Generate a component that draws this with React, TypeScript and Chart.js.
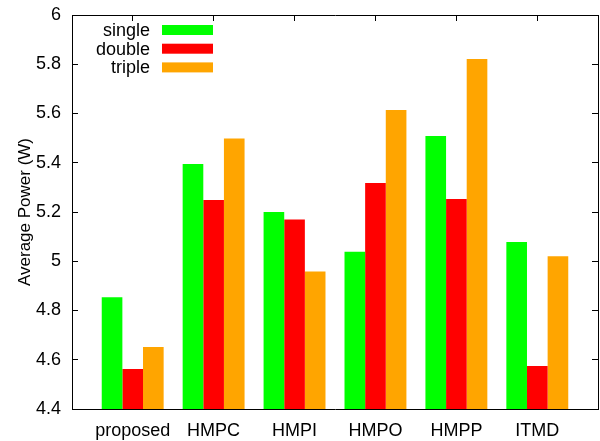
import React, { useEffect, useRef } from 'react';
import { Chart, registerables } from 'chart.js';

Chart.register(...registerables);

const categories = ['proposed', 'HMPC', 'HMPI', 'HMPO', 'HMPP', 'ITMD'];
const singleValues = [4.854, 5.395, 5.2, 5.039, 5.509, 5.078];
const doubleValues = [4.562, 5.249, 5.17, 5.318, 5.253, 4.575];
const tripleValues = [4.652, 5.498, 4.958, 5.614, 5.821, 5.02];
const yTicks = [4.4, 4.6, 4.8, 5.0, 5.2, 5.4, 5.6, 5.8, 6.0];
const seriesNames = ['single', 'double', 'triple'];
const seriesColors = ['#00ff00', '#ff0000', '#ffa500'];
const yTitle = 'Average Power (W)';

const FONT = '"Liberation Sans", Arial, Helvetica, sans-serif';

const legendPlugin = {
  id: 'gnuLegend',
  afterDraw(chart: any) {
    const { ctx, chartArea: a } = chart;
    ctx.save();
    ctx.font = `18px ${FONT}`;
    ctx.textAlign = 'right';
    ctx.textBaseline = 'alphabetic';
    chart.data.datasets.forEach((ds: any, i: number) => {
      const cy = a.top + 15 + i * 18.7;
      ctx.fillStyle = '#000000';
      ctx.fillText(ds.label, a.left + 78, cy + 6);
      ctx.fillStyle = ds.backgroundColor;
      ctx.fillRect(a.left + 90, cy - 5, 51, 10);
    });
    ctx.restore();
  },
};

const catTicks = (scale: any) => {
  scale.ticks = categories.map((_, i) => ({ value: i }));
};
const valTicks = (scale: any) => {
  scale.ticks = yTicks.map((v) => ({ value: v }));
};
const inwardGrid = {
  display: true,
  drawOnChartArea: false,
  drawTicks: true,
  tickLength: -6,
  color: '#000',
  lineWidth: 1,
};

export default function App() {
  const ref = useRef<HTMLCanvasElement>(null);
  useEffect(() => {
    if (!ref.current) return;
    const seriesValues = [singleValues, doubleValues, tripleValues];
    const chart = new Chart(ref.current, {
      type: 'bar',
      data: {
        datasets: seriesNames.map((name, s) => ({
          label: name,
          data: seriesValues[s].map((v, i) => ({ x: i, y: v })),
          backgroundColor: seriesColors[s],
          borderWidth: 0,
          categoryPercentage: 0.765,
          barPercentage: 1,
          xAxisID: 'x',
          yAxisID: 'y',
        })),
      },
      options: {
        responsive: false,
        animation: false,
        devicePixelRatio: 1,
        layout: { padding: { top: 15, right: 2, left: 0, bottom: 0 } },
        plugins: { legend: { display: false }, tooltip: { enabled: false } },
        scales: {
          x: {
            type: 'linear',
            position: 'bottom',
            offset: false,
            min: -0.75,
            max: 5.75,
            grid: { display: false, offset: false },
            border: { display: true, color: '#000', width: 1 },
            afterBuildTicks: catTicks,
            afterFit: (scale: any) => {
              scale.height = 32;
            },
            ticks: {
              autoSkip: false,
              maxRotation: 0,
              padding: 3,
              color: '#000',
              font: { family: FONT, size: 18 },
              callback: (v: any) => categories[v] ?? '',
            },
          },
          x2: {
            type: 'linear',
            position: 'top',
            offset: false,
            min: -0.75,
            max: 5.75,
            grid: { ...inwardGrid, offset: false },
            border: { display: true, color: '#000', width: 1 },
            afterBuildTicks: catTicks,
            afterFit: (scale: any) => {
              scale.height = 0;
            },
            ticks: { display: false },
          },
          y: {
            type: 'linear',
            position: 'left',
            min: 4.4,
            max: 6,
            grid: { ...inwardGrid },
            border: { display: true, color: '#000', width: 1 },
            afterBuildTicks: valTicks,
            afterFit: (scale: any) => {
              scale.width = 72;
              scale.paddingTop = 0;
              scale.paddingBottom = 0;
            },
            title: {
              display: true,
              text: yTitle,
              color: '#000',
              font: { family: FONT, size: 17 },
              padding: { top: 15, bottom: 0 },
            },
            ticks: {
              padding: 17,
              color: '#000',
              font: { family: FONT, size: 18 },
              callback: (v: any) => String(+Number(v).toFixed(1)),
            },
          },
          y2: {
            type: 'linear',
            position: 'right',
            min: 4.4,
            max: 6,
            grid: { ...inwardGrid },
            border: { display: true, color: '#000', width: 1 },
            afterBuildTicks: valTicks,
            afterFit: (scale: any) => {
              scale.width = 0;
              scale.paddingTop = 0;
              scale.paddingBottom = 0;
            },
            ticks: { display: false },
          },
        },
      },
      plugins: [legendPlugin],
    });
    return () => chart.destroy();
  }, []);
  return (
    <div style={{ position: 'fixed', left: 0, top: 0, width: 600, height: 441, background: '#fff' }}>
      <canvas ref={ref} width={600} height={441} style={{ width: 600, height: 441 }} />
    </div>
  );
}
